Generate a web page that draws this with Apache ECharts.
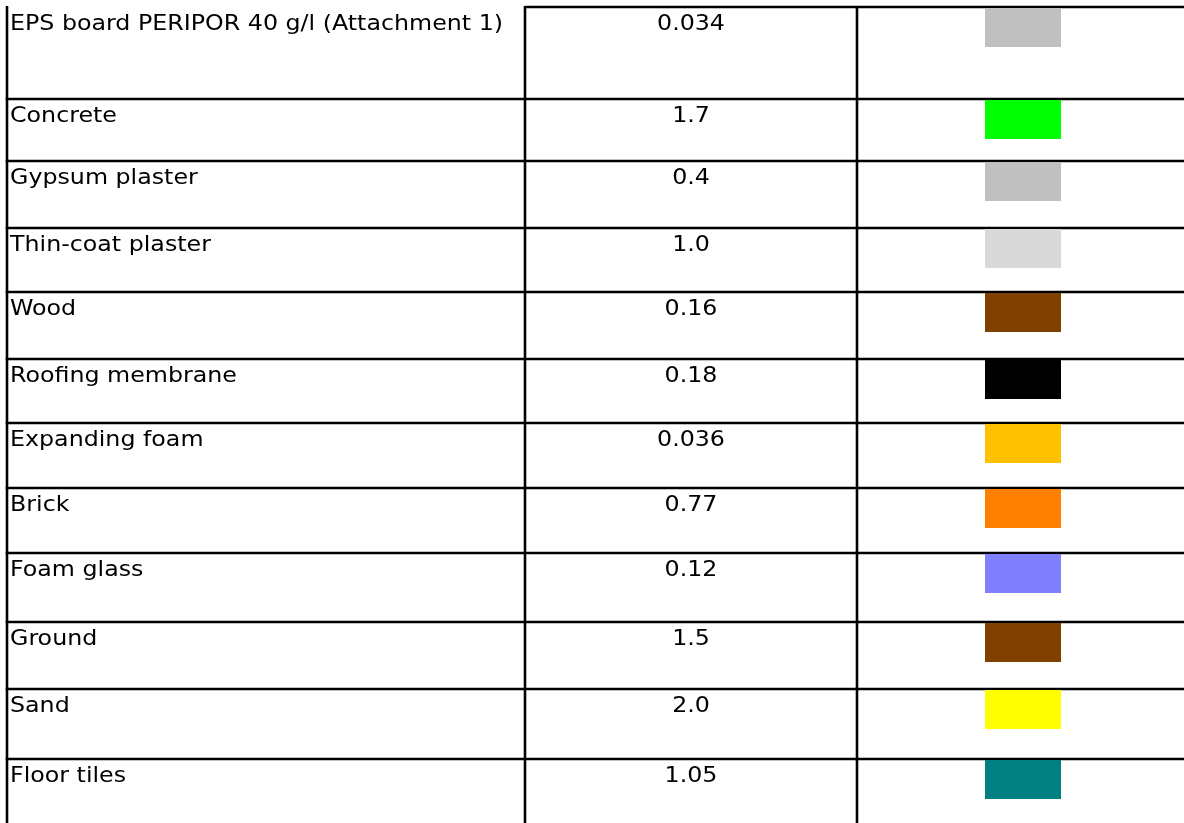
<!DOCTYPE html>
<html lang="en">
<head>
    <meta charset="UTF-8">
    <title>Materials</title>
    <script src="https://cdn.jsdelivr.net/npm/echarts@6/dist/echarts.min.js"></script>
    <style>
        html, body { margin: 0; padding: 0; background: #ffffff; }
        #main { width: 1184px; height: 823px; }
    </style>
</head>
<body>
<div id="main"></div>
<script>
    // table content
    var materials = [
        'EPS board PERIPOR 40 g/l (Attachment 1)',
        'Concrete',
        'Gypsum plaster',
        'Thin-coat plaster',
        'Wood',
        'Roofing membrane',
        'Expanding foam',
        'Brick',
        'Foam glass',
        'Ground',
        'Sand',
        'Floor tiles'
    ];
    var conductivity = [0.034, 1.7, 0.4, 1.0, 0.16, 0.18, 0.036, 0.77, 0.12, 1.5, 2.0, 1.05];
    var swatchColors = ['#c0c0c0', '#00ff00', '#c0c0c0', '#d9d9d9', '#804000', '#000000',
        '#ffc000', '#ff8000', '#8080ff', '#804000', '#ffff00', '#008080'];

    // layout (pixel units of the hidden axes)
    var rowEdges = [7, 99, 161, 228, 292, 359, 423, 488, 553, 622, 689, 759, 823];
    var colLeft = 7, colMid = 525, colRight = 857, tableEnd = 1184;
    var swatchX = 985, swatchW = 76, swatchH = 39;
    var textScale = 1.13;

    function fmt(v) {
        return v % 1 === 0 ? v.toFixed(1) : String(v);
    }

    var myChart = echarts.init(document.getElementById('main'));
    var option = {
        animation: false,
        grid: {left: 0, right: 0, top: 0, bottom: 0},
        xAxis: {type: 'value', min: 0, max: 1184, show: false},
        yAxis: {type: 'value', min: 0, max: 823, inverse: true, show: false},
        series: [{
            type: 'custom',
            data: materials.map(function (m, i) { return [i, conductivity[i]]; }),
            renderItem: function (params, api) {
                var i = api.value(0);
                var top = rowEdges[i], bottom = rowEdges[i + 1];
                var a = api.coord([0, top]), b = api.coord([0, bottom]);
                var y0 = a[1], y1 = b[1];
                function px(x) { return api.coord([x, 0])[0]; }
                var line = {stroke: '#000', lineWidth: 2.6};
                var kids = [];
                // top border of the row
                kids.push({type: 'line', shape: {x1: px(i === 0 ? colMid : colLeft), y1: y0, x2: px(tableEnd), y2: y0}, style: line});
                // column separators
                [colLeft, colMid, colRight].forEach(function (x) {
                    kids.push({type: 'line', shape: {x1: px(x), y1: y0 - 1, x2: px(x), y2: y1 + 1}, style: line});
                });
                // colour swatch
                kids.push({type: 'rect', shape: {x: px(swatchX), y: y0 + 1, width: swatchW, height: swatchH},
                    style: {fill: swatchColors[i]}});
                // material name
                kids.push({type: 'text', x: px(10), y: y0 + 17.5, scaleX: textScale,
                    style: {text: materials[i], fill: '#000', fontSize: 21, fontFamily: 'DejaVu Sans',
                        verticalAlign: 'middle', align: 'left'}});
                // conductivity value
                kids.push({type: 'text', x: px((colMid + colRight) / 2), y: y0 + 18, scaleX: textScale,
                    style: {text: fmt(api.value(1)), fill: '#000', fontSize: 21, fontFamily: 'DejaVu Sans',
                        verticalAlign: 'middle', align: 'center'}});
                return {type: 'group', children: kids};
            }
        }]
    };
    myChart.setOption(option);
</script>
</body>
</html>
